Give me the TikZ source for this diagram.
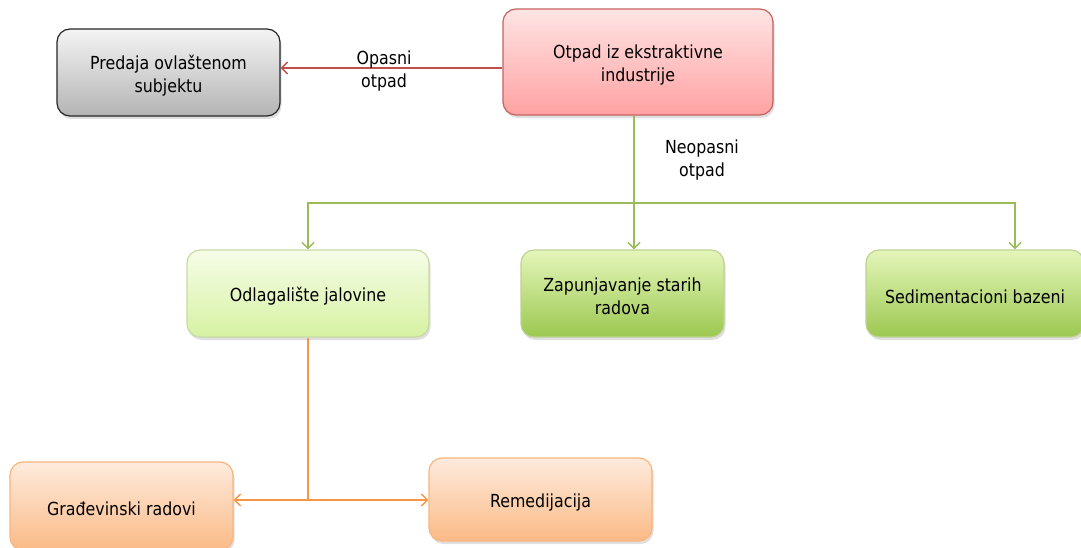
\documentclass[tikz,border=0pt]{standalone}
\usepackage{fontspec}
\setmainfont{DejaVu Sans}[FakeStretch=0.88]
\usetikzlibrary{arrows.meta,shadows}
\definecolor{redln}{HTML}{C0504D}
\definecolor{greenln}{HTML}{9BBB59}
\definecolor{orangeln}{HTML}{F79646}
\definecolor{grayT}{HTML}{F4F4F4}
\definecolor{grayB}{HTML}{B4B4B4}
\definecolor{pinkT}{HTML}{FFE4E4}
\definecolor{pinkB}{HTML}{FFA2A2}
\definecolor{lgT}{HTML}{F6FDE8}
\definecolor{lgB}{HTML}{D6F2A2}
\definecolor{gT}{HTML}{E4F6BA}
\definecolor{gB}{HTML}{9CC850}
\definecolor{oT}{HTML}{FEEBDD}
\definecolor{oB}{HTML}{FBBA86}
\tikzset{
  box/.style={rounded corners=13pt, line width=1.2pt, inner sep=0pt,
    drop shadow={shadow xshift=1.5pt, shadow yshift=-3pt, opacity=0.25}},
  txt/.style={label={[lbl, yshift=-3pt]center:#1}},
  graybox/.style={box, draw=black!85, top color=grayT, bottom color=grayB},
  pinkbox/.style={box, draw=redln!90, top color=pinkT, bottom color=pinkB},
  lgreenbox/.style={box, draw=greenln!55, top color=lgT, bottom color=lgB},
  greenbox/.style={box, draw=greenln!65, top color=gT, bottom color=gB},
  orangebox/.style={box, draw=orangeln!70, top color=oT, bottom color=oB},
  conn/.style={line width=1.4pt, -{Straight Barb[length=6pt,width=12pt]}},
  plain/.style={line width=1.4pt},
  lbl/.style={align=center, inner sep=0pt, font=\fontsize{18}{23}\selectfont}
}
\begin{document}
\begin{tikzpicture}[x=1pt,y=-1pt]
\useasboundingbox (0,0) rectangle (1081,548);
\node[graybox, minimum width=223pt, minimum height=87pt, txt={Predaja ovlaštenom\\subjektu}] (pred) at (168.5,72.5) {};
\node[pinkbox, minimum width=270pt, minimum height=106pt, txt={Otpad iz ekstraktivne\\industrije}] (otp) at (638,62) {};
\node[lgreenbox, minimum width=242pt, minimum height=87pt, txt={Odlagalište jalovine}] (odl) at (308,293.5) {};
\node[greenbox, minimum width=203pt, minimum height=87pt, txt={Zapunjavanje starih\\radova}] (zap) at (622.5,293.5) {};
\node[greenbox, minimum width=218pt, minimum height=87pt, txt={Sedimentacioni bazeni}] (sed) at (975,293.5) {};
\node[orangebox, minimum width=223pt, minimum height=88pt, txt={Građevinski radovi}] (gra) at (121.5,506) {};
\node[orangebox, minimum width=223pt, minimum height=83pt, txt={Remedijacija}] (rem) at (540.5,499.5) {};

\coordinate (rl) at (0,68);
\draw[conn, draw=redln] (otp.west |- rl) -- (pred.east |- rl);
\node[lbl] (lop) at (384,71) {Opasni\\otpad};

\coordinate (g) at (634,203);
\draw[plain, draw=greenln] (otp.south -| g) -- (g);
\draw[conn, draw=greenln] (g) -- (zap.north -| g);
\draw[conn, draw=greenln] (g) -| (odl.north);
\coordinate (gs) at (1015,203);
\draw[conn, draw=greenln] (g) -- (gs) -- (sed.north -| gs);
\node[lbl] (lneo) at (702,160) {Neopasni\\otpad};

\coordinate (o) at (308,500);
\draw[plain, draw=orangeln] (odl.south) -- (o);
\draw[conn, draw=orangeln] (o) -- (gra.east |- o);
\draw[conn, draw=orangeln] (o) -- (rem.west |- o);
\end{tikzpicture}
\end{document}
